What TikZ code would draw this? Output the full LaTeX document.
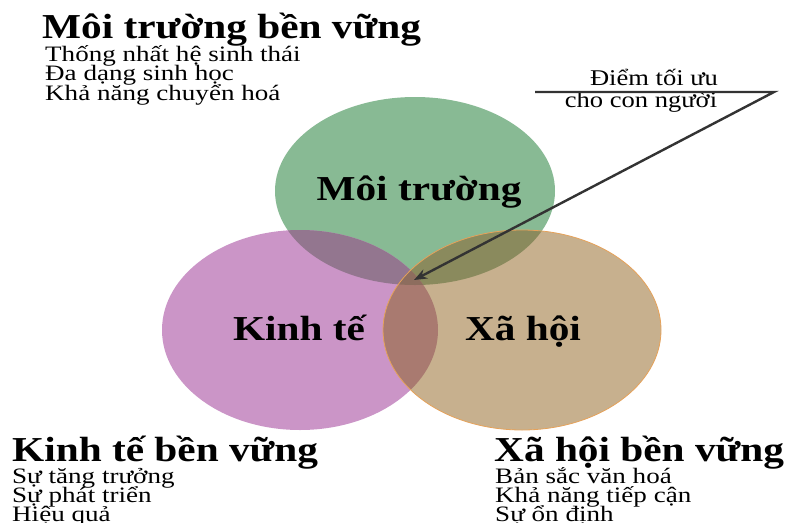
\documentclass[tikz,border=0pt]{standalone}
\usepackage{fontspec}
\setmainfont{Liberation Serif}
\newfontfamily\wideserif[FakeStretch=1.18]{Liberation Serif}
\newfontfamily\bodyserif[FakeStretch=1.23]{Liberation Serif}
\usetikzlibrary{arrows.meta}
\definecolor{cgreen}{HTML}{88BA94}
\definecolor{cpink}{HTML}{CB95C7}
\definecolor{ctan}{HTML}{C7B08E}
\definecolor{cpg}{HTML}{93768F}
\definecolor{cgt}{HTML}{8A8A5D}
\definecolor{cpt}{HTML}{A97A70}
\definecolor{cpgt}{HTML}{8D6D5E}
\definecolor{cborder}{HTML}{E6A25A}
\definecolor{carrow}{HTML}{333333}
\tikzset{
  title/.style={anchor=base west,inner sep=0pt,font=\wideserif\bfseries\fontsize{35}{35}\selectfont},
  body/.style={anchor=base west,inner sep=0pt,font=\bodyserif\fontsize{22}{22}\selectfont},
  circlabel/.style={anchor=base,inner sep=0pt,font=\wideserif\bfseries\fontsize{35}{35}\selectfont},
  note/.style={anchor=base,inner sep=0pt,font=\wideserif\fontsize{22.5}{22.5}\selectfont},
  pointer/.style={draw=carrow,line width=2.4pt,-{Stealth[length=13pt,width=10pt]}}
}
\def\GE{(415,191) ellipse [x radius=140, y radius=94]}
\def\PE{(300,330) ellipse [x radius=138, y radius=100]}
\def\TE{(522,330) ellipse [x radius=139, y radius=100]}
\begin{document}
\begin{tikzpicture}[x=1pt,y=-1pt]
\useasboundingbox[fill=white] (0,0) rectangle (789,522);
% ellipses
\fill[cgreen] \GE;
\fill[cpink] \PE;
\fill[ctan] \TE;
\begin{scope}\clip \GE; \fill[cpg] \PE; \end{scope}
\begin{scope}\clip \GE; \fill[cgt] \TE; \end{scope}
\begin{scope}\clip \PE; \fill[cpt] \TE; \end{scope}
\begin{scope}\clip \GE; \clip \PE; \fill[cpgt] \TE; \end{scope}
\draw[cborder,line width=0.8pt] \TE;
% labels in circles
\node[circlabel] (moi) at (419,200) {Môi trường};
\node[circlabel] (kinh) at (299,340) {Kinh tế};
\node[circlabel] (xa) at (523,340) {Xã hội};
% top-left block
\node[title] (t1) at (42,38) {Môi trường bền vững};
\node[body] (t1a) at (45,61) {Thống nhất hệ sinh thái};
\node[body] (t1b) at (45,80) {Đa dạng sinh học};
\node[body] (t1c) at (45,100) {Khả năng chuyển hoá};
% bottom-left block
\node[title] (t2) at (12,461) {Kinh tế bền vững};
\node[body] (t2a) at (12,483) {Sự tăng trưởng};
\node[body] (t2b) at (12,502) {Sự phát triển};
\node[body] (t2c) at (12,521) {Hiệu quả};
% bottom-right block
\node[title] (t3) at (494,461) {Xã hội bền vững};
\node[body] (t3a) at (495,483) {Bản sắc văn hoá};
\node[body] (t3b) at (495,502) {Khả năng tiếp cận};
\node[body] (t3c) at (495,521) {Sự ổn định};
% optimum note
\node[note] (n1) at (654,85) {Điểm tối ưu};
\node[note] (n2) at (641,107) {cho con người};
\coordinate (ul) at (535,92);
\coordinate (ur) at (774,92);
\coordinate (tip) at (414,280);
\draw[pointer] (ul) -- (ur) -- (tip);
\end{tikzpicture}
\end{document}
